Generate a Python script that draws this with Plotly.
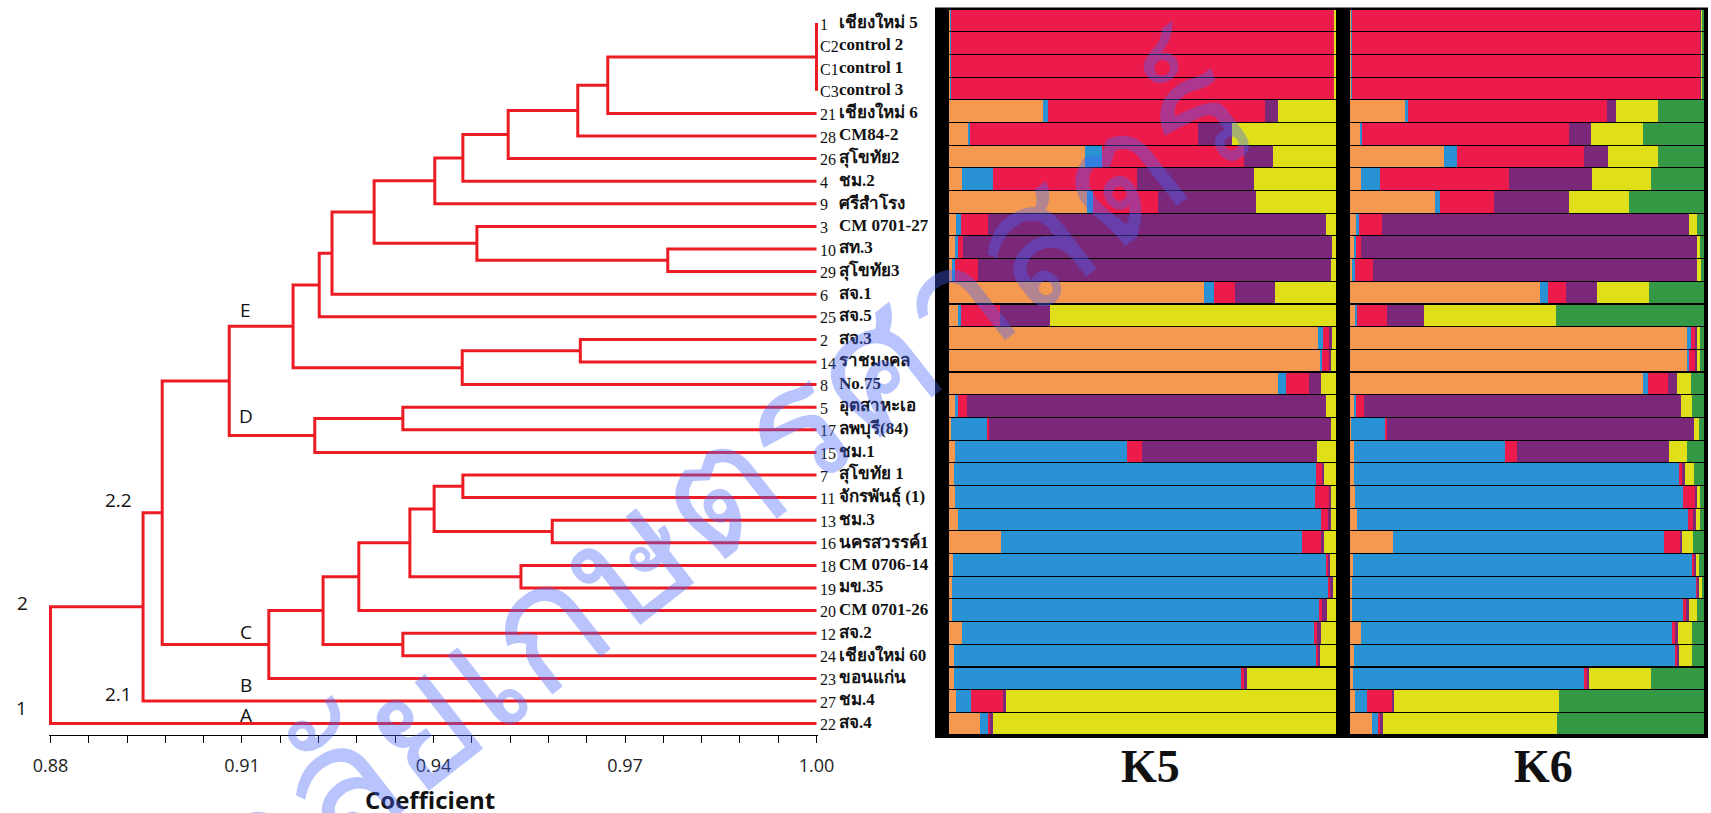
import plotly.graph_objects as go

W, H = 1711, 813

# ---- leaves (top to bottom) ----
leaf_ids = ["1", "C2", "C1", "C3", "21", "28", "26", "4", "9", "3", "10", "29", "6", "25",
            "2", "14", "8", "5", "17", "15", "7", "11", "13", "16", "18", "19", "20", "12",
            "24", "23", "27", "22"]
leaf_names = ["เชียงใหม่ 5", "control 2", "control 1", "control 3", "เชียงใหม่ 6", "CM84-2",
              "สุโขทัย2", "ชม.2", "ศรีสำโรง", "CM 0701-27", "สท.3", "สุโขทัย3", "สจ.1", "สจ.5",
              "สจ.3", "ราชมงคล", "No.75", "อุตสาหะเอ", "ลพบุรี(84)", "ชม.1", "สุโขทัย 1",
              "จักรพันธุ์ (1)", "ชม.3", "นครสวรรค์1", "CM 0706-14", "มข.35", "CM 0701-26",
              "สจ.2", "เชียงใหม่ 60", "ขอนแก่น", "ชม.4", "สจ.4"]

# ---- UPGMA merges: (child, child, coefficient); int = earlier merge ----
merges = [
    ("1", "C2", 1.000),    # 0
    ("C1", "C3", 1.000),   # 1
    (0, 1, 1.000),         # 2
    (2, "21", 0.9673),     # 3
    (3, "28", 0.9626),     # 4
    (4, "26", 0.9517),     # 5
    (5, "4", 0.9446),      # 6
    (6, "9", 0.9402),      # 7
    ("10", "29", 0.9767),  # 8
    ("3", 8, 0.9468),      # 9
    (7, 9, 0.9307),        # 10
    (10, "6", 0.9241),     # 11
    (11, "25", 0.9221),    # 12
    ("2", "14", 0.9630),   # 13
    (13, "8", 0.9445),     # 14
    (12, 14, 0.9180),      # 15  E
    ("5", "17", 0.9352),   # 16
    (16, "15", 0.9214),    # 17  D
    (15, 17, 0.9080),      # 18
    ("7", "11", 0.9446),   # 19
    ("13", "16", 0.9586),  # 20
    (19, 20, 0.9401),      # 21
    ("18", "19", 0.9537),  # 22
    (21, 22, 0.9363),      # 23
    (23, "20", 0.9283),    # 24
    ("12", "24", 0.9352),  # 25
    (24, 25, 0.9227),      # 26
    (26, "23", 0.9142),    # 27  C
    (18, 27, 0.8975),      # 28  2.2
    (28, "27", 0.8945),    # 29  2
    (29, "22", 0.8800),    # 30  root
]

# ---- STRUCTURE membership: orange, blue, red, purple, yellow (, green) ----
k5_orange = [0.003, 0.003, 0.003, 0.003, 0.244, 0.048, 0.352, 0.033, 0.357, 0.018, 0.016, 0.009, 0.658, 0.022,
             0.953, 0.958, 0.850, 0.017, 0.005, 0.016, 0.014, 0.016, 0.022, 0.134, 0.010, 0.007, 0.007, 0.034,
             0.014, 0.013, 0.018, 0.080]
k5_blue = [0.003, 0.003, 0.003, 0.003, 0.013, 0.006, 0.043, 0.080, 0.015, 0.013, 0.006, 0.007, 0.026, 0.009,
           0.013, 0.007, 0.021, 0.005, 0.093, 0.445, 0.934, 0.930, 0.939, 0.778, 0.964, 0.973, 0.949, 0.909,
           0.934, 0.742, 0.039, 0.020]
k5_red = [0.990, 0.990, 0.990, 0.990, 0.560, 0.590, 0.368, 0.374, 0.167, 0.070, 0.014, 0.060, 0.056, 0.100,
          0.017, 0.017, 0.059, 0.025, 0.006, 0.037, 0.015, 0.036, 0.018, 0.048, 0.006, 0.006, 0.009, 0.009,
          0.007, 0.008, 0.084, 0.008]
k5_purple = [0.001, 0.001, 0.001, 0.001, 0.033, 0.086, 0.074, 0.302, 0.255, 0.874, 0.953, 0.911, 0.103, 0.130,
             0.006, 0.004, 0.030, 0.928, 0.882, 0.453, 0.007, 0.006, 0.009, 0.008, 0.005, 0.005, 0.012, 0.009,
             0.004, 0.007, 0.005, 0.005]
k5_yellow = [0.003, 0.003, 0.003, 0.003, 0.150, 0.269, 0.163, 0.211, 0.206, 0.025, 0.012, 0.012, 0.157, 0.740,
             0.010, 0.014, 0.041, 0.025, 0.014, 0.049, 0.031, 0.012, 0.013, 0.032, 0.015, 0.009, 0.023, 0.038,
             0.041, 0.230, 0.854, 0.887]

k6_orange = [0.003, 0.003, 0.003, 0.003, 0.155, 0.028, 0.266, 0.030, 0.240, 0.016, 0.012, 0.007, 0.537, 0.014,
             0.951, 0.954, 0.829, 0.014, 0.004, 0.012, 0.011, 0.013, 0.019, 0.121, 0.009, 0.005, 0.006, 0.031,
             0.011, 0.009, 0.015, 0.062]
k6_blue = [0.002, 0.002, 0.002, 0.002, 0.009, 0.006, 0.037, 0.056, 0.015, 0.010, 0.005, 0.008, 0.021, 0.007,
           0.012, 0.005, 0.014, 0.003, 0.095, 0.426, 0.917, 0.928, 0.937, 0.765, 0.958, 0.972, 0.936, 0.878,
           0.908, 0.652, 0.032, 0.017]
k6_red = [0.986, 0.986, 0.986, 0.986, 0.563, 0.584, 0.359, 0.363, 0.152, 0.063, 0.013, 0.051, 0.051, 0.083,
          0.013, 0.018, 0.055, 0.023, 0.006, 0.033, 0.011, 0.035, 0.014, 0.046, 0.005, 0.006, 0.008, 0.009,
          0.007, 0.008, 0.072, 0.006]
k6_purple = [0.001, 0.001, 0.001, 0.001, 0.024, 0.062, 0.067, 0.236, 0.213, 0.868, 0.950, 0.914, 0.089, 0.106,
             0.005, 0.002, 0.027, 0.895, 0.868, 0.431, 0.007, 0.004, 0.008, 0.006, 0.004, 0.003, 0.008, 0.008,
             0.003, 0.006, 0.004, 0.007]
k6_yellow = [0.005, 0.005, 0.005, 0.005, 0.118, 0.149, 0.141, 0.166, 0.168, 0.022, 0.010, 0.011, 0.148, 0.372,
             0.009, 0.010, 0.039, 0.030, 0.014, 0.051, 0.027, 0.009, 0.011, 0.032, 0.011, 0.007, 0.022, 0.040,
             0.037, 0.175, 0.466, 0.493]
k6_green = [0.003, 0.003, 0.003, 0.003, 0.131, 0.171, 0.131, 0.148, 0.213, 0.021, 0.009, 0.009, 0.155, 0.418,
            0.009, 0.011, 0.037, 0.035, 0.013, 0.047, 0.026, 0.011, 0.011, 0.030, 0.013, 0.008, 0.021, 0.035,
            0.035, 0.150, 0.411, 0.415]

cluster_colors = ["#F69950", "#2892D4", "#EC1B4C", "#7B287A", "#E0E01A", "#349844"]
tick_coef = [0.88, 0.91, 0.94, 0.97, 1.00]
watermark_text = "มหาวิทยาลัยเกษตรศาสตร์"

DENDRO_RED = "#ED1C24"
n = len(leaf_ids)
rows = list(range(n))

# ---- pixel layout helpers ----
def px_x(p):
    return p / W

def px_y(p):
    return 1 - p / H

AX_L, AX_R = 50.5, 816.5          # pixel positions of 0.88 and 1.00
C0, C1 = tick_coef[0], tick_coef[-1]
pad = 0.0003
scale = (AX_R - AX_L) / (C1 - C0)
xd0 = AX_L - pad * scale
xd1 = AX_R + pad * scale

ROW0, ROWSTEP = 23.0, 22.6         # leaf row pixel spacing of the tree
y_lo, y_hi = -0.6, n - 0.3
dend_dom = [px_y(ROW0 + y_hi * ROWSTEP), px_y(ROW0 + y_lo * ROWSTEP)]
bar_dom = [px_y(735), px_y(9)]

# ---- dendrogram geometry ----
leaf_row = {lid: i for i, lid in enumerate(leaf_ids)}
node_pos = {}


def pos(c):
    if isinstance(c, str):
        return (1.0, float(leaf_row[c]))
    return node_pos[c]


xs, ys = [], []
for k, (a, b, h) in enumerate(merges):
    xa, ya = pos(a)
    xb, yb = pos(b)
    xs += [xa, h, h, xb, None]
    ys += [ya, ya, yb, yb, None]
    node_pos[k] = (h, (ya + yb) / 2)

fig = go.Figure()
fig.add_trace(go.Scatter(x=xs, y=ys, mode="lines", xaxis="x", yaxis="y",
                         line=dict(color=DENDRO_RED, width=3), hoverinfo="skip"))

# ---- structure bar plots ----
k5 = [k5_orange, k5_blue, k5_red, k5_purple, k5_yellow]
k6 = [k6_orange, k6_blue, k6_red, k6_purple, k6_yellow, k6_green]
for vals, col in zip(k5, cluster_colors):
    fig.add_trace(go.Bar(x=vals, y=rows, orientation="h", xaxis="x2", yaxis="y2",
                         marker=dict(color=col, line=dict(width=0)), hoverinfo="skip"))
for vals, col in zip(k6, cluster_colors):
    fig.add_trace(go.Bar(x=vals, y=rows, orientation="h", xaxis="x3", yaxis="y3",
                         marker=dict(color=col, line=dict(width=0)), hoverinfo="skip"))

k5_dom = [px_x(949), px_x(1336)]
k6_dom = [px_x(1350), px_x(1704)]

shapes = []
for ax, left_px, right_px, dom_px in (("x2", 14, 0, 387), ("x3", 14, 4, 354)):
    yax = "y2" if ax == "x2" else "y3"
    shapes.append(dict(type="rect", xref=f"{ax} domain", yref=f"{yax} domain",
                       x0=-left_px / dom_px, x1=1 + right_px / dom_px,
                       y0=-3 / 726, y1=1 + 1.5 / 726,
                       fillcolor="black", line=dict(width=0), layer="below"))

annotations = []
# leaf labels
for i, (lid, name) in enumerate(zip(leaf_ids, leaf_names)):
    annotations.append(dict(x=px_x(818), y=i + 0.05, xref="paper", yref="y", text=lid,
                            showarrow=False, xanchor="left", yanchor="middle",
                            font=dict(family="Liberation Serif", size=16, color="#111")))
    annotations.append(dict(x=px_x(837), y=i - 0.05, xref="paper", yref="y", text=f"<b>{name}</b>",
                            showarrow=False, xanchor="left", yanchor="middle",
                            font=dict(family="Liberation Serif", size=17, color="#111")))

# cluster letters and group numbers
group_labels = [("E", 0.9106, 12.7), ("D", 0.9106, 17.4), ("C", 0.9106, 26.95),
                ("B", 0.9106, 29.3), ("A", 0.9106, 30.6), ("2.2", 0.8906, 21.1),
                ("2.1", 0.8906, 29.7)]
for txt, cx, cy in group_labels:
    annotations.append(dict(x=cx, y=cy, xref="x", yref="y", text=txt, showarrow=False,
                            xanchor="center", yanchor="middle",
                            font=dict(family="Open Sans", size=19, color="#111")))
for txt, gx, gy in (("2", 22, 603), ("1", 21, 708)):
    annotations.append(dict(x=px_x(gx), y=px_y(gy), xref="paper", yref="paper", text=txt,
                            showarrow=False, xanchor="center", yanchor="middle",
                            font=dict(family="Open Sans", size=19, color="#111")))

annotations.append(dict(x=px_x(430), y=px_y(799), xref="paper", yref="paper",
                        text="<b>Coefficient</b>", showarrow=False,
                        xanchor="center", yanchor="middle",
                        font=dict(family="Open Sans", size=24, color="#111")))
for txt, cx in (("K5", 1150), ("K6", 1543)):
    annotations.append(dict(x=px_x(cx), y=px_y(766), xref="paper", yref="paper",
                            text=f"<b>{txt}</b>", showarrow=False,
                            xanchor="center", yanchor="middle",
                            font=dict(family="Liberation Serif", size=46, color="#111")))

# translucent diagonal watermark, running off the lower-left corner
annotations.append(dict(x=px_x(476), y=px_y(670), xref="paper", yref="paper",
                        text=watermark_text, showarrow=False, textangle=-38,
                        xanchor="center", yanchor="middle",
                        font=dict(family="Noto Sans", size=170, color="rgba(70,100,250,0.38)")))

fig.update_layout(
    width=W, height=H, autosize=False,
    margin=dict(l=0, r=0, t=0, b=0, pad=0, autoexpand=False),
    paper_bgcolor="white", plot_bgcolor="white", showlegend=False,
    barmode="stack", bargap=0.05,
    xaxis=dict(domain=[px_x(xd0), px_x(xd1)], range=[C0 - pad, C1 + pad],
               anchor="free", position=px_y(735), automargin=False,
               showline=True, linecolor="black", linewidth=1, showgrid=False, zeroline=False,
               ticks="outside", ticklen=7, tickcolor="black", tickwidth=1,
               tickvals=tick_coef, ticktext=[f"{v:.2f}" for v in tick_coef],
               minor=dict(dtick=0.006, tick0=0.88, ticks="outside", ticklen=7,
                          tickcolor="black", tickwidth=1, showgrid=False),
               tickfont=dict(family="Open Sans", size=18, color="#222"), ticklabelstandoff=7),
    yaxis=dict(domain=dend_dom, range=[y_hi, y_lo], visible=False, anchor="x", automargin=False),
    xaxis2=dict(domain=k5_dom, range=[0, 1], visible=False, anchor="y2", automargin=False),
    yaxis2=dict(domain=bar_dom, range=[n - 0.5, -0.5], visible=False, anchor="x2", automargin=False),
    xaxis3=dict(domain=k6_dom, range=[0, 1], visible=False, anchor="y3", automargin=False),
    yaxis3=dict(domain=bar_dom, range=[n - 0.5, -0.5], visible=False, anchor="x3", automargin=False),
    shapes=shapes, annotations=annotations,
)

fig.write_html("out.html")
